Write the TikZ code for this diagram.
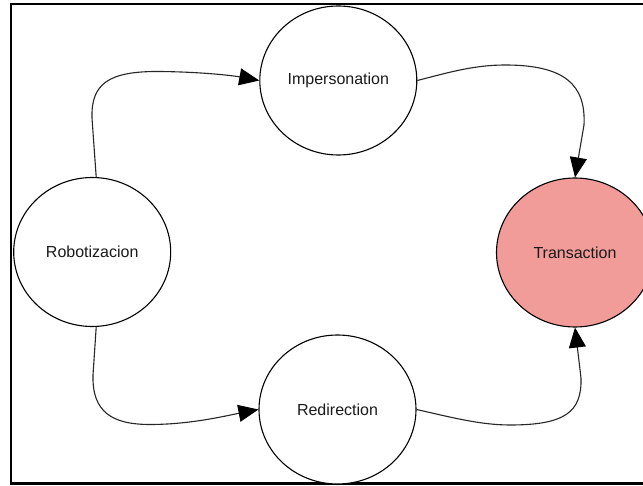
\documentclass[tikz,border=0pt]{standalone}
\usepackage{fontspec}
\setmainfont{Liberation Sans}
\usetikzlibrary{shapes.geometric,arrows.meta}

\definecolor{txtcol}{HTML}{1A1A1A}
\definecolor{salmon}{HTML}{F19C99}

\tikzset{
  state/.style={ellipse, draw=black, line width=1.1pt, fill=white,
    minimum width=157pt, minimum height=149pt, inner sep=0pt,
    font=\fontsize{16pt}{19pt}\selectfont, text=txtcol},
  goal/.style={state, fill=salmon},
  edge/.style={draw=black!85, line width=1.1pt,
    -{Triangle[length=20pt,width=17pt,fill=black,color=black]}},
  frame/.style={draw=black, line width=2.5pt}
}

\begin{document}
\begin{tikzpicture}[x=1pt,y=-1pt]
  \useasboundingbox (0,0) rectangle (643,486);
  \clip (0,0) rectangle (643,486);
  \fill[white] (0,0) rectangle (643,486);
  \draw[frame] (11,4) rectangle (680,483.5);

  % states
  \node[state] (imp) at (338.3,80.5) {Impersonation};
  \node[state] (rob) at (92.2,252)   {Robotizacion};
  \node[state] (red) at (337.5,409.5) {Redirection};
  \node[goal]  (tra) at (575,252.5)  {Transaction};

  % transitions
  \draw[edge] ([xshift=4pt]rob.north) -- (92,118)
      .. controls (91,84) and (108,71) .. (160,71.5)
      .. controls (205,72) and (235,76) .. (imp.west);
  \draw[edge] (imp.east) .. controls (450,72) and (475,65) .. (505,65)
      .. controls (565,65) and (586,85) .. (584,125) -- (tra.north);
  \draw[edge] ([xshift=4pt]rob.south) -- (93,375)
      .. controls (92,412) and (112,424.5) .. (150,424.5)
      .. controls (190,424.5) and (225,416) .. (red.west);
  \draw[edge] (red.east) .. controls (450,417) and (480,425) .. (510,425)
      .. controls (565,425) and (582,412) .. (581,378) -- (tra.south);
\end{tikzpicture}
\end{document}
